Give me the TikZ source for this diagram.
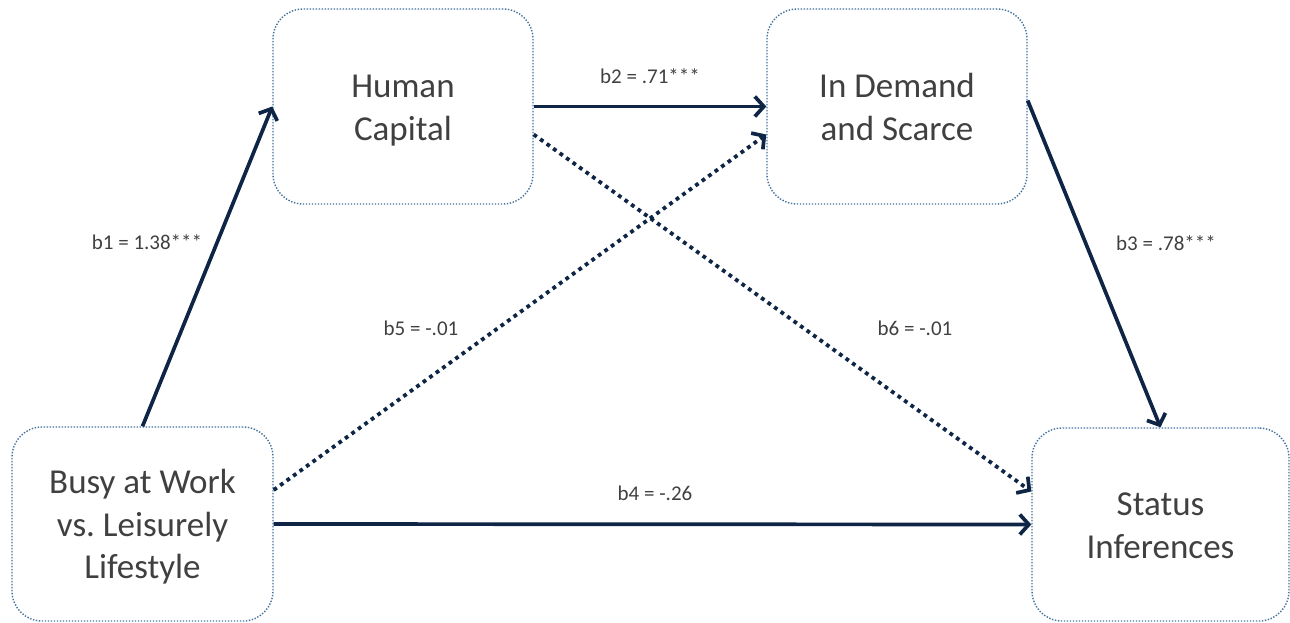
\documentclass[tikz,border=0pt]{standalone}
\usepackage{fontspec}
\setmainfont{Carlito}
\usetikzlibrary{arrows.meta,positioning}
\definecolor{boxline}{HTML}{41719C}
\definecolor{arrowcol}{HTML}{0F2545}
\definecolor{txt}{HTML}{404040}
\newcommand\topst{\rule{0pt}{34pt}}
\newcommand\botst{\rule[-9.5pt]{0pt}{9.5pt}}
\tikzset{
  vbox/.style={draw=boxline, line width=1.4pt, dash pattern=on 1.4pt off 1.6pt,
    rounded corners=30pt, inner sep=0pt, align=center, text=txt,
    font=\fontsize{35}{42.5}\selectfont},
  lbl/.style={text=txt, font=\fontsize{21}{25}\selectfont, inner sep=0pt},
  solidarr/.style={draw=arrowcol, line width=3.7pt,
    -{Straight Barb[length=9pt,width=20pt,line width=3.7pt]}},
  dotarr/.style={draw=arrowcol, line width=3.8pt, dash pattern=on 3.8pt off 4.2pt,
    -{Straight Barb[length=9pt,width=20pt,line width=3.7pt]}},
}
\begin{document}
\begin{tikzpicture}[x=1pt,y=-1pt]
\useasboundingbox (0,0) rectangle (1290,623);
\node[vbox, minimum width=261pt, minimum height=194pt] (busy) at (142.5,524) {\topst Busy at Work\\vs.\ Leisurely\\Lifestyle\botst};
\node[vbox, minimum width=260pt, minimum height=195pt] (hc) at (403,106.5) {\topst Human\\Capital\botst};
\node[vbox, minimum width=260pt, minimum height=195pt] (idm) at (897,106.5) {\topst In Demand\\and Scarce\botst};
\node[vbox, minimum width=257pt, minimum height=193pt] (st) at (1160.5,524.5) {\topst Status\\Inferences\botst};

\draw[solidarr] (busy.north) -- (hc.west);
\draw[solidarr] (hc.east) -- (idm.west);
\draw[dotarr] ([yshift=34pt]busy.east) -- ([yshift=-28pt]idm.west);
\draw[dotarr] ([yshift=-28pt]hc.east) -- ([yshift=33pt]st.west);
\draw[solidarr] ([yshift=6pt]idm.east) -- (st.north);
\draw[solidarr] (busy.east) -- (st.west);

\node[lbl] (l1) at (147,242) {b1 = 1.38***};
\node[lbl] (l2) at (650,76) {b2 = .71***};
\node[lbl] (l3) at (1166,243) {b3 = .78***};
\node[lbl] (l5) at (421,328) {b5 = -.01};
\node[lbl] (l6) at (915,328) {b6 = -.01};
\node[lbl] (l4) at (655,493) {b4 = -.26};
\end{tikzpicture}
\end{document}
